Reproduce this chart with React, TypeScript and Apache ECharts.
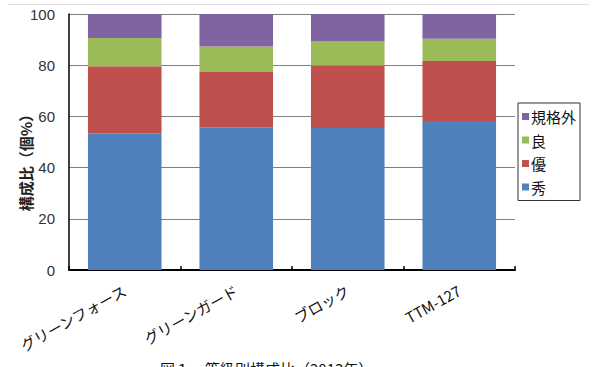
import React, { useEffect, useRef } from "react";
import * as echarts from "echarts";

const categories = ["グリーンフォース", "グリーンガード", "ブロック", "TTM-127"];
const shu = [53.4, 55.8, 55.5, 58.2];
const yu = [26.2, 21.5, 24.4, 23.4];
const ryo = [11.0, 10.0, 9.4, 8.7];
const kikakugai = [9.4, 12.7, 10.7, 9.7];
const yTicks = [0, 20, 40, 60, 80, 100];

const FONT = "'Noto Sans CJK JP', 'Noto Sans', sans-serif";

export default function App() {
  const ref = useRef<HTMLDivElement>(null);
  useEffect(() => {
    document.body.style.margin = "0";
    const chart = echarts.init(ref.current!, null, { renderer: "svg" });
    const mk = (name: string, data: number[], color: string) => ({
      name,
      type: "bar",
      stack: "total",
      data,
      barCategoryGap: "34%",
      itemStyle: { color },
    });
    chart.setOption({
      animation: false,
      textStyle: { fontFamily: FONT },
      grid: { left: 69, top: 14, width: 446, height: 256 },
      legend: {
        orient: "vertical",
        left: 518,
        top: 103,
        width: 70,
        data: ["規格外", "良", "優", "秀"],
        icon: "rect",
        itemWidth: 7,
        itemHeight: 7,
        itemGap: 8.5,
        padding: [6, 4, 6, 4],
        borderColor: "#333",
        borderWidth: 1,
        textStyle: { fontSize: 15, color: "#111", fontFamily: FONT, padding: [0, 0, 0, -3] },
      },
      xAxis: {
        type: "category",
        data: categories,
        axisLine: { lineStyle: { color: "#000", width: 2 } },
        axisTick: { show: true, inside: true, length: 4, lineStyle: { color: "#000", width: 1.5 } },
        axisLabel: { rotate: 29, fontSize: 15, color: "#111", margin: 19, fontFamily: FONT },
      },
      yAxis: {
        type: "value",
        min: 0,
        max: 100,
        interval: 20,
        axisLine: { show: true, lineStyle: { color: "#000", width: 1.5 } },
        axisTick: { show: false },
        axisLabel: {
          fontSize: 15,
          color: "#333",
          margin: 14,
          fontFamily: "'Liberation Sans', Arial, sans-serif",
          formatter: (v: number) => (yTicks.includes(v) ? String(v) : ""),
        },
        splitLine: { lineStyle: { color: "#7f7f7f", width: 1 } },
      },
      graphic: [
        {
          type: "line",
          shape: { x1: 8, y1: 4.5, x2: 589, y2: 4.5 },
          style: { stroke: "#e0e0e0", lineWidth: 1 },
        },
        {
          type: "text",
          x: 25,
          y: 159,
          rotation: Math.PI / 2,
          style: {
            text: "構成比（個%）",
            font: `bold 15px ${FONT}`,
            fill: "#222",
            align: "center",
            verticalAlign: "middle",
          },
        },
        {
          type: "text",
          x: 160,
          y: 361,
          style: {
            text: "図１　等級別構成比（2013年）",
            font: `15px ${FONT}`,
            fill: "#111",
            align: "left",
            verticalAlign: "top",
          },
        },
      ],
      series: [
        mk("秀", shu, "#4F81BD"),
        mk("優", yu, "#C0504D"),
        mk("良", ryo, "#9BBB59"),
        mk("規格外", kikakugai, "#8064A2"),
      ],
    });
    return () => chart.dispose();
  }, []);
  return <div ref={ref} style={{ width: 597, height: 367 }} />;
}
